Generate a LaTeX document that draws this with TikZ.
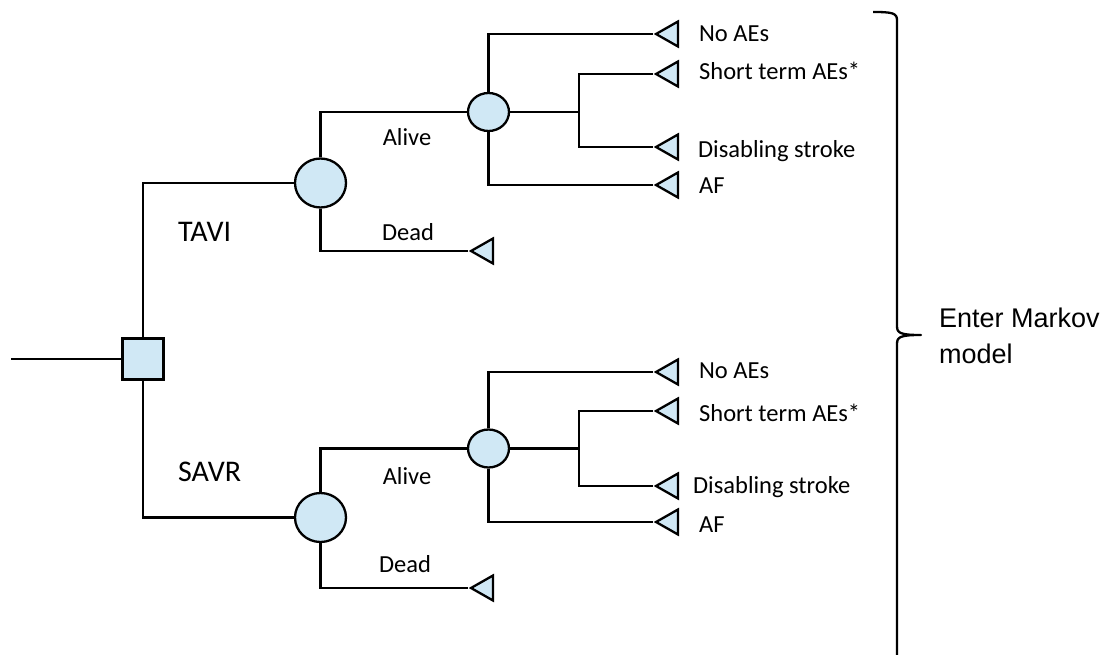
\documentclass[tikz,border=0pt]{standalone}
\usepackage{fontspec}
\setmainfont{Carlito}
\newfontfamily\arialfont{Liberation Sans}
\usepackage{xcolor}
\usepackage{tikz}
\usetikzlibrary{shapes.geometric}
\definecolor{nodeblue}{RGB}{208,232,245}

\begin{document}
\begin{tikzpicture}[x=1pt,y=-1pt,line width=2.3pt,
    decision/.style={draw,fill=nodeblue,rectangle,minimum size=41pt,inner sep=0pt},
    chance/.style={draw,fill=nodeblue,ellipse,inner sep=0pt},
    bigchance/.style={chance,minimum width=51pt,minimum height=49pt},
    smallchance/.style={chance,minimum width=41pt,minimum height=38pt},
    terminal/.style={draw,fill=nodeblue,isosceles triangle,isosceles triangle stretches,
      shape border rotate=180,minimum width=25pt,minimum height=22pt,inner sep=0pt,anchor=apex},
    arm/.style={font=\fontsize{30}{36}\selectfont,anchor=base west,inner sep=0pt},
    branch/.style={font=\fontsize{24.5}{29}\selectfont,anchor=base,inner sep=0pt},
    outcome/.style={font=\fontsize{24.5}{29}\selectfont,anchor=base west,inner sep=0pt}]
      \useasboundingbox (0,0) rectangle (1106,655);

      % decision and the two arms
      \coordinate (start) at (11,359);
      \node[decision] (sq) at (143,359) {};
      \node[bigchance] (tavi) at (320.5,183) {};
      \node[bigchance] (savr) at (320.5,517.5) {};
      \draw (start) -- (sq);
      \draw (sq.north) |- (tavi.west);
      \draw (sq.south) |- (savr.west);
      \node[arm] (taviL) at (177,242) {TAVI};
      \node[arm] (savrL) at (177,481) {SAVR};

      % TAVI arm
      \node[smallchance] (aliveT) at (488.5,112) {};
      \node[terminal] (deadT) at (468,251) {};
      \draw (tavi.north) |- (aliveT.west);
      \draw (tavi.south) |- (deadT.apex);
      \node[branch] at (407,146) {Alive};
      \node[branch] at (408,241) {Dead};

      \coordinate (jT) at (579,112);
      \node[terminal] (noT) at (653,34) {};
      \node[terminal] (shortT) at (653,74) {};
      \node[terminal] (strokeT) at (653,147) {};
      \node[terminal] (afT) at (653,185) {};
      \draw (aliveT.north) |- (noT.apex);
      \draw (aliveT.east) -- (jT);
      \draw (jT) |- (shortT.apex);
      \draw (jT) |- (strokeT.apex);
      \draw (aliveT.south) |- (afT.apex);
      \node[outcome] at (698,42) {No AEs};
      \node[outcome] at (698,80) {Short term AEs*};
      \node[outcome] at (697,158) {Disabling stroke};
      \node[outcome] at (698,194) {AF};

      % SAVR arm
      \node[smallchance] (aliveS) at (488.5,448.5) {};
      \node[terminal] (deadS) at (468,588) {};
      \draw (savr.north) |- (aliveS.west);
      \draw (savr.south) |- (deadS.apex);
      \node[branch] at (407,484) {Alive};
      \node[branch] at (405,572) {Dead};

      \coordinate (jS) at (579,448.5);
      \node[terminal] (noS) at (653,372) {};
      \node[terminal] (shortS) at (653,411) {};
      \node[terminal] (strokeS) at (653,486) {};
      \node[terminal] (afS) at (653,522) {};
      \draw (aliveS.north) |- (noS.apex);
      \draw (aliveS.east) -- (jS);
      \draw (jS) |- (shortS.apex);
      \draw (jS) |- (strokeS.apex);
      \draw (aliveS.south) |- (afS.apex);
      \node[outcome] at (698,378) {No AEs};
      \node[outcome] at (698,421) {Short term AEs*};
      \node[outcome] at (692,493) {Disabling stroke};
      \node[outcome] at (698,532) {AF};

      % brace into the Markov model
      \draw[line join=round] (873,12) .. controls (892,12) and (897,13) .. (897,20)
        -- (897,326) .. controls (897,333) and (900,335) .. (921,335)
        .. controls (900,335) and (897,337) .. (897,344) -- (897,655);
      \node[font=\arialfont\fontsize{27}{36}\selectfont,align=left,anchor=north west,inner sep=0pt]
        (markov) at (938,307) {Enter Markov\\model};
\end{tikzpicture}
\end{document}
